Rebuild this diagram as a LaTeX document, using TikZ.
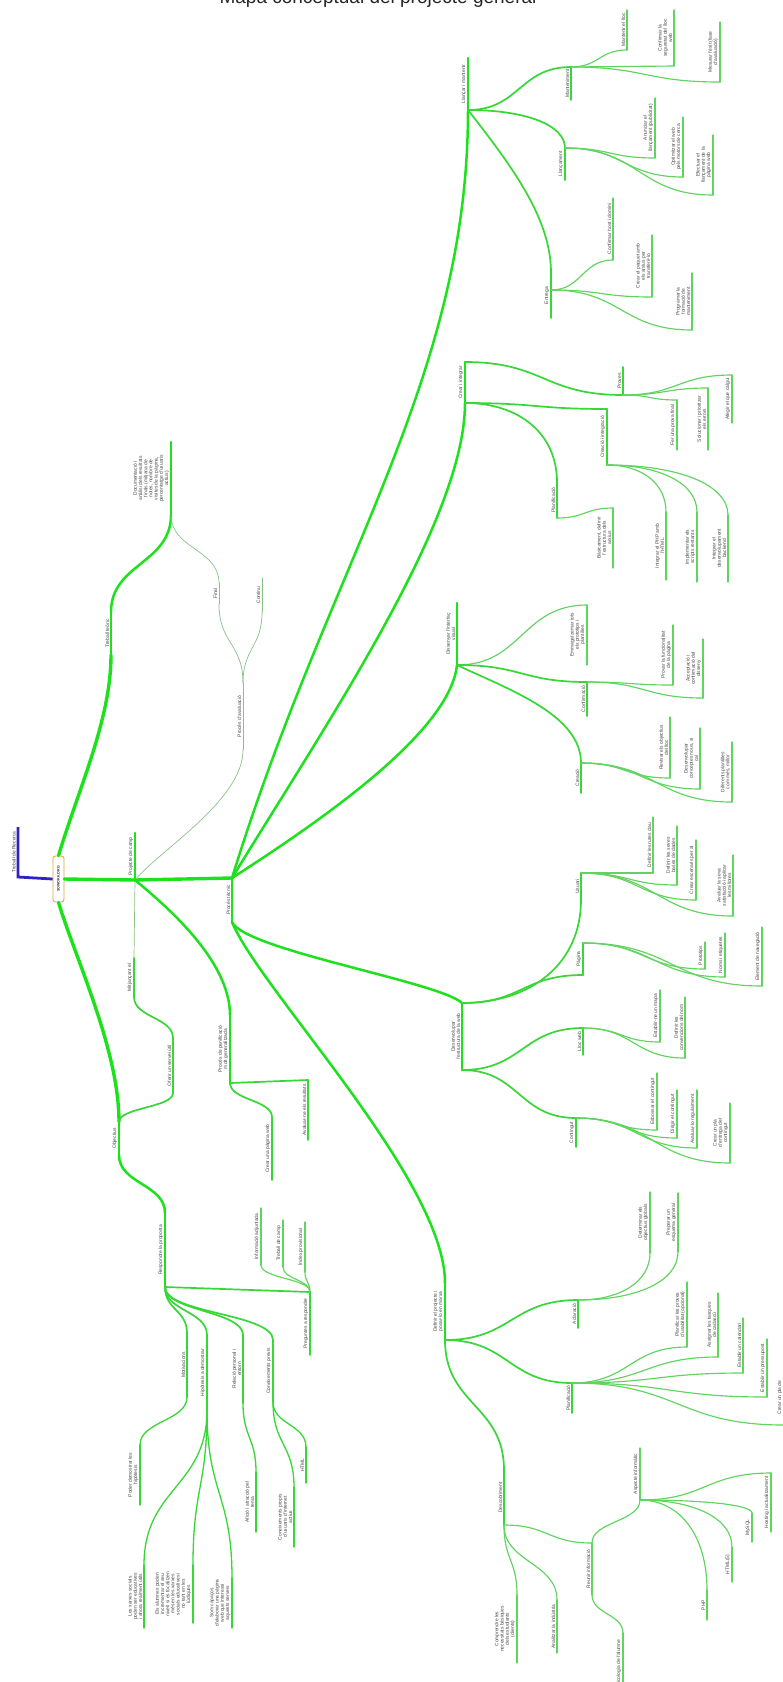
\documentclass[tikz,border=0pt]{standalone}
\usepackage{fontspec}
\setmainfont{Liberation Sans}
\usetikzlibrary{calc}
\definecolor{gA}{RGB}{30,225,30}
\definecolor{gB}{RGB}{55,215,55}
\definecolor{gL}{RGB}{95,212,95}
\definecolor{gT}{RGB}{135,195,135}
\definecolor{blu}{RGB}{45,35,200}
\definecolor{orng}{RGB}{215,165,60}
\tikzset{
  L1/.style={draw=gA,line width=3.4pt,line cap=round},
  L2/.style={draw=gA,line width=2.5pt,line cap=round},
  L3/.style={draw=gB,line width=1.7pt,line cap=round},
  L3b/.style={draw=gB,line width=1.3pt,line cap=round},
  L4/.style={draw=gL,line width=1.15pt,line cap=round},
  LT/.style={draw=gT,line width=0.7pt,line cap=round},
  lbl/.style={rotate=90,anchor=south,inner sep=0.4pt,font=\fontsize{4.9}{5.2}\selectfont,align=center,text=black!72},
}
\newcommand\mmN[6][L4]{%
  \coordinate (#2-t) at (#3,#4);
  \coordinate (#2-b) at (#3,#5);
  \draw[#1] (#2-t) -- (#2-b);
  \node[lbl] (#2) at ({#3-1.3},{(#4+#5)/2}) {#6};}
\newcommand\mmH[3][L4]{\draw[#1] let \p1=(#2),\p2=(#3) in (\p1) .. controls ({0.5*\x1+0.5*\x2},\y1) and ({0.5*\x1+0.5*\x2},\y2) .. (\p2);}
\newcommand\mmV[3][L4]{\draw[#1] let \p1=(#2),\p2=(#3) in (\p1) .. controls (\x1,{0.5*\y1+0.5*\y2}) and (\x2,{0.5*\y1+0.5*\y2}) .. (\p2);}
\newcommand\mmHV[3][L4]{\draw[#1] let \p1=(#2),\p2=(#3) in (\p1) .. controls ({0.4*\x1+0.6*\x2},\y1) and (\x2,{0.6*\y1+0.4*\y2}) .. (\p2);}
\begin{document}
\begin{tikzpicture}[x=1pt,y=-1pt]
\fill[white] (0,0) rectangle (783,1682);
\useasboundingbox (0,0) rectangle (783,1682);
\node[font=\fontsize{19}{20}\selectfont, anchor=base, text=black!85] (title) at (378,3.5) {Mapa conceptual del projecte general};

% ---------- root ----------
\node[draw=orng, fill=white, rounded corners=2.5pt, rotate=90, minimum width=46pt, minimum height=11pt, inner sep=0pt, line width=0.8pt, font=\fontsize{3.6}{4}\selectfont\bfseries, text=black!80] (root) at (58.5,879) {SOWORK.ORG};
\coordinate (trec-t) at (18,827);
\coordinate (trec-b) at (18,877);
\draw[blu, line width=2.8pt] (trec-t) -- (trec-b) -- (root.north);
\node[lbl] (trec) at (16.2,852) {Treball de Recerca};

% ---------- nodes, left part ----------
\mmN[L2]{tteo}{111}{612}{655}{Treball teòric}
\mmN[L2]{doc}{171}{442}{515}{Documentació i\\anàlisi dels resultats\\finals (mitjana de\\notes, nombre de\\visites de la pàgina,\\percentatge d'usuaris\\actius)}
\mmN[L2]{proj}{135}{833}{880}{Projecte de camp}
\mmN[LT]{paval}{243}{683}{750}{Procés d'avaluació}
\mmN[LT]{final}{219}{583}{604}{Final}
\mmN[LT]{cont}{262}{578}{612}{Continu}
\mmN[L3]{mitj}{134}{958}{997}{Mitjançant el}
\mmN[L3]{ofer}{173}{1038}{1093}{Oferir un servei útil}
\mmN[L2]{ppan}{230}{1015}{1083}{Procés de panificació\\molt generalitzada}
\mmN[L3]{cpag}{272}{1117}{1180}{Crear una pàgina web}
\mmN[L3]{aval}{308}{1080}{1140}{Avaluar-ne els resultats}
\mmN[L2]{obj}{119}{1122}{1155}{Objectius}
\mmN[L2]{resp}{165}{1213}{1287}{Respondre la proposta}
\mmN[L3]{preg}{310}{1292}{1355}{Preguntes a respondre}
\mmN{info}{261}{1208}{1265}{Informació adjuntada}
\mmN{tcamp}{283}{1220}{1267}{Treball de camp}
\mmN{index}{305}{1222}{1272}{Índex provisional}
\mmN[L3]{motiv}{187}{1333}{1397}{Motivacions}
\mmN[L3b]{poder}{140}{1445}{1505}{Poder demostrar les\\hipòtesis}
\mmN[L3]{hipo}{207}{1335}{1410}{Hipòtesis a demostrar}
\mmN[L3b]{xarx}{144}{1565}{1628}{Les xarxes socials\\poden ser educatives\\i ahora realment útils}
\mmN[L3b]{alum}{193}{1565}{1623}{Els alumnes poden\\incrementar el seu\\nivell si es focalitzen\\més en les xarxes\\socials educatives i\\no tant en les\\lúdiques}
\mmN[L3b]{som}{232}{1578}{1628}{Som capaços\\d'elaborar una pàgina\\web que interessi\\aquests serveis}
\mmN[L3]{rel}{243}{1335}{1403}{Relació personal i\\entorn}
\mmN[L3b]{afic}{256}{1472}{1532}{Afició i atracció pel\\tema}
\mmN[L3]{conp}{273}{1340}{1402}{Coneixements previs}
\mmN[L3b]{html}{306}{1447}{1483}{HTML}
\mmN[L3b]{conu}{294}{1487}{1547}{Coneixements propis\\d'usuaris d'internet\\actius}

% ---------- nodes, Proces tecnic ----------
\mmN[L2]{ptec}{232}{878}{922}{Procés tècnic}
\mmN[L2]{llan}{468}{58}{110}{Llançar i mantenir}
\mmN[L3]{mant}{571}{67}{100}{Manteniment}
\mmN{mlloc}{627}{10}{50}{Mantenir el lloc}
\mmN{cseg}{674}{10}{66}{Confirmar la\\seguretat del lloc\\web}
\mmN{mes}{720}{22}{82}{Mesurar l'èxit (fase\\d'avaluació)}
\mmN[L3]{llanc}{565}{148}{180}{Llançament}
\mmN{anun}{655}{98}{158}{Anunciar el\\llançament (publicitat)}
\mmN{opt}{683}{117}{177}{Optimitzar el web\\pels motors de cerca}
\mmN{efec}{713}{135}{195}{Efectuar el\\llançament de la\\pàgina web}
\mmN[L3]{entr}{551}{273}{318}{Entrega}
\mmN{chost}{613}{198}{260}{Confirmar host i domini}
\mmN{cpaq}{652}{235}{297}{Crear el paquet amb\\els arxius per\\transferir-lo}
\mmN{prog}{692}{273}{330}{Programar la\\formació de\\manteniment}
\mmN[L2]{crea}{465}{362}{403}{Crear i integrar}
\mmN[L3]{prov}{623}{367}{395}{Proves}
\mmN{fer}{677}{400}{450}{Fer una prova final}
\mmN{sol}{708}{388}{450}{Solucionar i prioritzar\\els errors}
\mmN{afeg}{732}{375}{423}{Afegir el que calgui}
\mmN[L3]{cint}{607}{409}{465}{Creació i integració}
\mmN{iphp}{666}{512}{580}{Integrar el PHP amb\\l'HTML}
\mmN{impl}{697}{512}{582}{Implementar els\\scripts restants}
\mmN{iback}{728}{515}{582}{Integrar el\\desenvolupament\\backend}
\mmN[L3]{plana}{557}{482}{518}{Planificació}
\mmN{basic}{613}{508}{568}{Bàsicament, definir\\l'estructura dels\\arxius}
\mmN[L2]{diss}{457}{603}{665}{Dissenyar l'interfaç\\visual}
\mmN{emm}{587}{605}{665}{Emmagatzemar tots\\els prototips i\\plantilles}
\mmN[L3]{conf}{587}{682}{716}{Confirmació}
\mmN{provf}{673}{625}{685}{Provar la funcionalitat\\de la pàgina}
\mmN{accep}{703}{639}{698}{Acceptació i\\confirmació del\\disseny}
\mmN[L3]{creac}{581}{763}{793}{Creació}
\mmN{rev}{670}{717}{778}{Revisar els objectius\\del lloc}
\mmN{desv}{700}{728}{789}{Desenvolupar\\conceptes nous, si\\cal}
\mmN{dif}{732}{742}{802}{Diferents plantilles\\com més, millor}
\mmN[L2]{dese}{462}{1003}{1070}{Desenvolupar\\l'estructura de la web}
\mmN[L3]{usu}{581}{873}{900}{Usuari}
\mmN{rutes}{653}{817}{873}{Definir les rutes clau}
\mmN{bases}{677}{826}{885}{Definir les seves\\bases de dades}
\mmN{escen}{696}{840}{900}{Crear escenaris per al}
\mmN{avsat}{733}{855}{916}{Avaluar la seva\\satisfacció i aplicar\\les millores}
\mmN[L3]{pag}{583}{943}{975}{Pàgina}
\mmN{proto}{705}{942}{969}{Prototips}
\mmN{noms}{725}{933}{977}{Noms i etiquetes}
\mmN{elem}{762}{927}{986}{Element de navegació}
\mmN[L3]{lloc}{583}{1028}{1055}{Lloc web}
\mmN{mapa}{660}{990}{1042}{Establir-ne un mapa}
\mmN{conv}{685}{997}{1058}{Definir les\\convencions del nom}
\mmN[L3]{contg}{576}{1118}{1147}{Contingut}
\mmN{esb}{657}{1073}{1130}{Esbossar el contingut}
\mmN{dir}{677}{1090}{1138}{Dirigir el contingut}
\mmN{avreg}{697}{1090}{1148}{Avaluar-lo regularment}
\mmN{pla}{730}{1103}{1163}{Crear un pla\\d'entrega del\\contingut}
\mmN[L2]{defi}{445}{1283}{1340}{Definir el projecte i\\posar-lo en marxa}
\mmN[L3]{acla}{578}{1300}{1328}{Aclaració}
\mmN{det}{650}{1192}{1253}{Determinar els\\objectius globals}
\mmN{prep}{678}{1193}{1252}{Preparar un\\esquema general}
\mmN[L3]{planb}{572}{1383}{1413}{Planificació}
\mmN{plpr}{687}{1282}{1347}{Planificar les proves\\d'usabilitat (opcional)}
\mmN{asig}{718}{1293}{1357}{Assignar les tasques\\de cadascú}
\mmN{cal}{743}{1318}{1373}{Establir un calendari}
\mmN{press}{767}{1339}{1397}{Establir un pressupost}
\mmN{plade}{784}{1370}{1425}{Crear un pla de}
\mmN[L3]{desc}{504}{1470}{1525}{Descobriment}
\mmN{compr}{517}{1595}{1663}{Comprendre les\\necessitats bàsiques\\dels estudiants\\(clients)}
\mmN{anal}{557}{1600}{1653}{Analitzar la indústria}
\mmN{reun}{592}{1543}{1595}{Reunir informació}
\mmN{asp}{640}{1448}{1500}{Aspecte informàtic}
\mmN{host}{771}{1473}{1532}{Hosting i actualitzament}
\mmN{mysql}{752}{1513}{1542}{MySQL}
\mmN{htmlv}{732}{1547}{1582}{HTML(5)}
\mmN{php}{707}{1590}{1620}{PHP}
\mmN{psic}{623}{1633}{1695}{Psicologia de l'alumne}

% ---------- edges, left part ----------
\draw[L1] (root.east) .. controls (78,790) and (111,720) .. (tteo-b);
\draw[L1] (root.west) .. controls (76,960) and (119,1050) .. (obj-t);
\draw[L1] (root.south) -- (proj-b);
\draw[L1] (proj-b) -- (ptec-t);
\mmV[L2]{tteo-t}{doc-b}
\mmV[LT]{doc-b}{final-t}
\mmV[LT]{paval-t}{final-b}
\mmV[LT]{paval-t}{cont-b}
\draw[LT] (proj-b) .. controls (160,850) and (243,800) .. (paval-b);
\draw[LT] (proj-b) -- (mitj-t);
\draw[L2] (proj-b) .. controls (165,905) and (230,960) .. (ppan-t);
\mmV[L3]{mitj-b}{ofer-t}
\mmV[L3]{ofer-b}{obj-t}
\mmV[L3]{ppan-b}{cpag-t}
\draw[L3] (ppan-b) -- (aval-t);
\mmV[L2]{obj-b}{resp-t}
\draw[L3] (resp-b) -- (preg-t);
\mmV{preg-t}{info-b}
\mmV{preg-t}{tcamp-b}
\mmV{preg-t}{index-b}
\mmV[L3]{resp-b}{motiv-t}
\mmV[L3]{resp-b}{hipo-t}
\mmV[L3]{resp-b}{rel-t}
\mmV[L3]{resp-b}{conp-t}
\mmV[L3b]{motiv-b}{poder-t}
\mmV[L3b]{hipo-b}{xarx-t}
\mmV[L3b]{hipo-b}{alum-t}
\mmV[L3b]{hipo-b}{som-t}
\mmV[L3b]{rel-b}{afic-t}
\mmV[L3b]{conp-b}{html-t}
\mmV[L3b]{conp-b}{conu-t}

% ---------- edges, Proces tecnic ----------
\draw[L2] (ptec-t) .. controls (330,560) and (468,380) .. (llan-b);
\draw[L2] (ptec-t) .. controls (326,724) and (465,520) .. (crea-b);
\draw[L2] (ptec-t) .. controls (330,815) and (450,730) .. (diss-b);
\draw[L2] (ptec-b) .. controls (245,950) and (440,982) .. (dese-t);
\draw[L2] (ptec-b) .. controls (260,990) and (445,1180) .. (defi-t);

\mmH[L3]{llan-b}{mant-t}
\mmH{mant-t}{mlloc-b}
\mmH{mant-t}{cseg-b}
\mmH{mant-t}{mes-b}
\mmHV[L3]{llan-b}{llanc-t}
\mmH{llanc-t}{anun-b}
\mmH{llanc-t}{opt-b}
\mmH{llanc-t}{efec-b}
\draw[L3] (llan-b) .. controls (515,170) and (551,220) .. (entr-t);
\coordinate (entr-j) at (551,290);
\mmH{entr-j}{chost-b}
\mmH{entr-j}{cpaq-b}
\mmH{entr-j}{prog-b}

\mmH[L3]{crea-t}{prov-b}
\mmH{prov-b}{fer-t}
\mmH{prov-b}{sol-t}
\mmH{prov-b}{afeg-t}
\mmH[L3]{crea-b}{cint-t}
\mmHV{cint-b}{iphp-t}
\mmHV{cint-b}{impl-t}
\mmHV{cint-b}{iback-t}
\mmHV[L3]{crea-b}{plana-t}
\mmH{plana-b}{basic-t}

\mmH{diss-b}{emm-t}
\mmH[L3]{diss-b}{conf-t}
\mmH{conf-t}{provf-b}
\mmH{conf-t}{accep-b}
\draw[L3] (diss-b) .. controls (510,690) and (581,715) .. (creac-t);
\mmH{creac-t}{rev-b}
\mmH{creac-t}{desv-b}
\mmH{creac-t}{dif-b}

\mmHV[L3]{dese-t}{usu-b}
\mmH{usu-t}{rutes-b}
\mmH{usu-t}{bases-b}
\mmH{usu-t}{escen-b}
\mmH{usu-t}{avsat-b}
\mmH[L3]{dese-t}{pag-b}
\mmH{pag-t}{proto-b}
\mmH{pag-t}{noms-b}
\mmH{pag-t}{elem-b}
\mmH[L3]{dese-b}{lloc-t}
\mmH{lloc-t}{mapa-b}
\mmH{lloc-t}{conv-b}
\mmH[L3]{dese-b}{contg-t}
\mmH{contg-t}{esb-b}
\mmH{contg-t}{dir-b}
\mmH{contg-t}{avreg-b}
\mmH{contg-t}{pla-b}

\mmH[L3]{defi-b}{acla-t}
\mmHV{acla-t}{det-b}
\mmHV{acla-t}{prep-b}
\mmH[L3]{defi-b}{planb-t}
\mmH{planb-t}{plpr-b}
\mmH{planb-t}{asig-b}
\mmH{planb-t}{cal-b}
\mmH{planb-t}{press-b}
\mmH{planb-t}{plade-b}
\mmV[L3]{defi-b}{desc-t}
\mmV{desc-b}{compr-t}
\mmV{desc-b}{anal-t}
\mmH{desc-b}{reun-t}
\mmV{reun-t}{asp-b}
\mmH{asp-b}{host-t}
\mmHV{asp-b}{mysql-t}
\mmHV{asp-b}{htmlv-t}
\mmHV{asp-b}{php-t}
\mmV{reun-b}{psic-t}
\end{tikzpicture}
\end{document}
